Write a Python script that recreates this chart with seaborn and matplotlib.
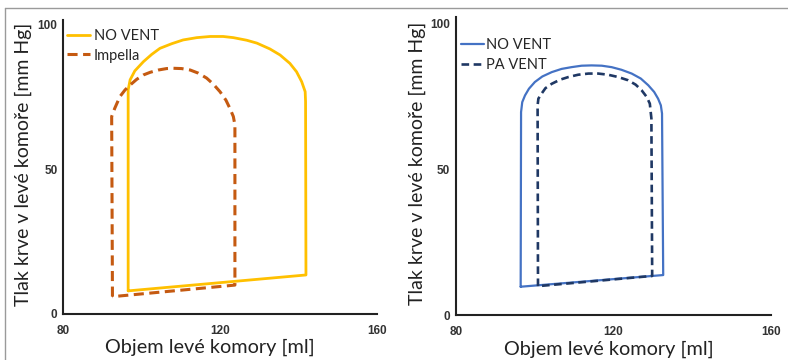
import matplotlib
matplotlib.use("Agg")
import matplotlib.pyplot as plt
from matplotlib.lines import Line2D
import seaborn as sns
import pandas as pd

# ---- data ----
# Left panel: NO VENT vs Impella
left_novent_v = [96.6, 96.6, 97.1, 98.3, 100.5, 102.6, 104.7, 107.7, 110.6, 114.1, 117.5, 120.8,
                 123.4, 126.8, 129.4, 132.7, 135.3, 137.8, 139.5, 140.8, 141.7, 141.8, 141.9, 96.6]
left_novent_p = [8.0, 77.5, 81.0, 84.1, 87.3, 89.8, 91.9, 93.5, 94.8, 95.6, 96.0, 96.0,
                 95.6, 94.7, 93.7, 91.7, 89.6, 86.7, 83.8, 80.4, 76.9, 73.5, 13.5, 8.0]
impella_v = [92.6, 92.4, 93.2, 94.5, 95.8, 97.1, 98.8, 100.5, 102.2, 104.3, 106.4, 108.1, 110.2,
             112.4, 114.5, 116.6, 118.3, 120.0, 121.5, 122.5, 123.4, 123.8, 123.8, 92.6]
impella_p = [6.0, 68.3, 71.2, 75.2, 77.5, 79.2, 81.2, 82.7, 83.6, 84.4, 84.9, 85.0, 84.9,
             84.4, 83.3, 81.6, 79.5, 76.9, 74.0, 71.2, 68.3, 65.4, 10.0, 6.0]

# Right panel: NO VENT vs PA VENT
right_novent_v = [96.5, 96.6, 96.9, 97.6, 98.6, 100.1, 102.0, 104.4, 106.9, 109.4, 112.0, 114.5,
                  117.1, 119.6, 122.1, 124.7, 127.0, 128.9, 130.4, 131.4, 132.1, 132.4, 132.7, 96.5]
right_novent_p = [9.7, 69.6, 73.0, 75.3, 77.6, 79.9, 81.8, 83.3, 84.4, 85.0, 85.5, 85.6,
                  85.5, 85.0, 84.1, 82.8, 81.1, 78.8, 76.5, 74.2, 71.9, 69.1, 13.7, 9.7]
pavent_v = [100.9, 100.8, 101.0, 101.8, 102.8, 104.4, 106.5, 108.6, 111.1, 113.7, 116.2, 118.7,
            121.3, 123.8, 125.7, 127.2, 128.5, 129.3, 129.7, 129.9, 100.9]
pavent_p = [9.9, 71.9, 74.2, 75.9, 77.8, 79.3, 80.7, 81.6, 82.4, 82.8, 82.8, 82.4,
            81.6, 80.5, 79.0, 77.1, 74.8, 72.5, 67.4, 13.4, 9.9]

x_ticks = [80, 120, 160]
y_ticks = [0, 50, 100]
x_label = "Objem levé komory [ml]"
y_label = "Tlak krve v levé komoře [mm Hg]"

sns.set_style("white")
plt.rcParams["font.family"] = ["Lato", "DejaVu Sans"]

fig = plt.figure(figsize=(7.88, 3.6), dpi=100)
axL = fig.add_axes([63 / 788, 46 / 360, 314 / 788, 294 / 360])
axR = fig.add_axes([455.7 / 788, 45 / 360, 315 / 788, 298 / 360])


def draw(ax, v, p, color, lw, ls, label):
    df = pd.DataFrame({"v": v, "p": p})
    sns.lineplot(data=df, x="v", y="p", sort=False, estimator=None, color=color,
                 linewidth=lw, linestyle=ls, label=label, ax=ax,
                 solid_joinstyle="round", dash_capstyle="butt", dash_joinstyle="round")


draw(axL, left_novent_v, left_novent_p, "#FFC000", 2.0, "-", "NO VENT")
draw(axL, impella_v, impella_p, "#C55A11", 2.2, (0, (3.3, 1.8)), "Impella")
draw(axR, right_novent_v, right_novent_p, "#4472C4", 1.6, "-", "NO VENT")
draw(axR, pavent_v, pavent_p, "#1F3864", 1.9, (0, (2.9, 1.7)), "PA VENT")

tick_font = {"family": "Liberation Sans", "size": 8.5, "weight": "bold"}
for ax, ytop in ((axL, 101.7), (axR, 102.2)):
    ax.set_xlim(80, 160)
    ax.set_ylim(0, ytop)
    ax.set_xticks(x_ticks)
    ax.set_yticks(y_ticks)
    ax.set_xticklabels([str(t) for t in x_ticks], fontdict=tick_font, color="#333333")
    ax.set_yticklabels([str(t) for t in y_ticks], fontdict=tick_font, color="#333333")
    ax.tick_params(axis="x", length=0, pad=8)
    ax.tick_params(axis="y", length=0, pad=4)
    for s in ("top", "right"):
        ax.spines[s].set_visible(False)
    for s in ("left", "bottom"):
        ax.spines[s].set_color("#222222")
        ax.spines[s].set_linewidth(1.5)
    ax.set_xlabel(x_label, fontsize=14.3, color="#222222")
    ax.set_ylabel(y_label, fontsize=14, color="#222222")
    ax.set_facecolor("white")

axL.xaxis.set_label_coords(0.468, -0.085)
axL.yaxis.set_label_coords(-0.098, 0.51)
axR.xaxis.set_label_coords(0.487, -0.085)
axR.yaxis.set_label_coords(-0.093, 0.51)

axL.legend(loc="upper left", bbox_to_anchor=(0.013, 0.968), frameon=False, fontsize=10.5,
           handlelength=1.6, handletextpad=0.25, labelspacing=0.35, borderpad=0, borderaxespad=0)
axR.legend(loc="upper left", bbox_to_anchor=(0.016, 0.928), frameon=False, fontsize=10.5,
           handlelength=1.6, handletextpad=0.1, labelspacing=0.4, borderpad=0, borderaxespad=0)

# thin frame lines seen at top and left of the reference image
fig.add_artist(Line2D([5 / 788, 1.0], [1 - 8 / 360, 1 - 8 / 360], transform=fig.transFigure,
                      color="#9a9a9a", linewidth=1.0))
fig.add_artist(Line2D([5 / 788, 5 / 788], [0, 1 - 8 / 360], transform=fig.transFigure,
                      color="#9a9a9a", linewidth=1.0))

fig.savefig("out.png", dpi=100, facecolor="white")
